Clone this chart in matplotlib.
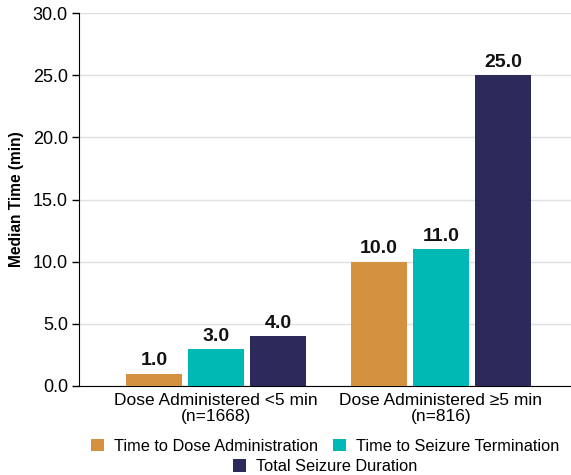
import numpy as np
import matplotlib.pyplot as plt
from matplotlib.patches import Patch

plt.rcParams['font.family'] = ['Liberation Sans', 'DejaVu Sans']

# median times (min) per dosing group
groups = ['Dose Administered <5 min\n(n=1668)', 'Dose Administered \u22655 min\n(n=816)']
series = ['Time to Dose Administration', 'Time to Seizure Termination', 'Total Seizure Duration']
dose_time = [1.0, 10.0]
termination_time = [3.0, 11.0]
total_duration = [4.0, 25.0]
colors = ['#D4913F', '#00B8B4', '#2C2A5A']

values = [dose_time, termination_time, total_duration]

fig = plt.figure(figsize=(5.71, 4.75), dpi=100)
ax = fig.add_axes([0.1384, 0.1874, 0.8616, 0.7852])

x = np.arange(len(groups))
width = 0.249
offset = 0.2756

for i, (vals, col) in enumerate(zip(values, colors)):
    pos = x + (i - 1) * offset
    bars = ax.bar(pos, vals, width=width, color=col, zorder=3)
    ax.bar_label(bars, labels=[f'{v:.1f}' for v in vals], padding=3,
                 fontsize=14, fontweight='bold', color='#111111')

ax.set_xlim(-0.609, 1.578)
ax.set_ylim(0, 30)
ax.set_yticks(np.arange(0, 31, 5))
ax.set_yticklabels([f'{t:.1f}' for t in np.arange(0, 31, 5)], fontsize=13)
ax.set_xticks(x)
ax.set_xticklabels(groups, fontsize=12.5, linespacing=1.1)
ax.tick_params(axis='x', length=0, pad=5)
ax.tick_params(axis='y', length=5, width=1, direction='out', pad=3)

ax.grid(axis='y', color='#e0e0e0', linewidth=1, zorder=0)
for s in ['top', 'right']:
    ax.spines[s].set_visible(False)
ax.spines['left'].set_color('black')
ax.spines['bottom'].set_color('black')

ax.set_ylabel('Median Time (min)', fontsize=11.2, fontweight='bold', labelpad=6)

handles = [Patch(facecolor=c) for c in colors]
leg1 = ax.legend(handles[:2], series[:2], ncol=2, loc='upper center',
                 bbox_to_anchor=(0.5, -0.141), frameon=False, fontsize=11.8,
                 handlelength=0.8, handleheight=0.8, handletextpad=0.6,
                 columnspacing=0.9, borderaxespad=0, borderpad=0)
ax.add_artist(leg1)
ax.legend(handles[2:], series[2:], loc='upper center',
          bbox_to_anchor=(0.5, -0.197), frameon=False, fontsize=11.8,
          handlelength=0.8, handleheight=0.8, handletextpad=0.6,
          borderaxespad=0, borderpad=0)

fig.savefig('out.png', dpi=100)
